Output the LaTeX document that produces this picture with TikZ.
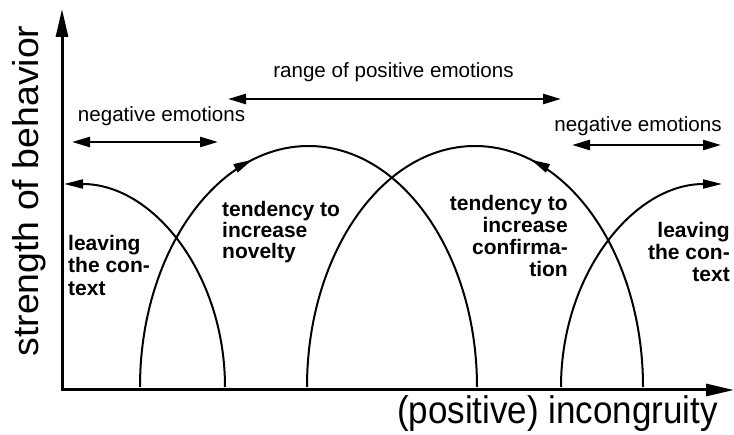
\documentclass[tikz,border=0pt]{standalone}
\usepackage{fontspec}
\setmainfont{Liberation Sans}
\usetikzlibrary{arrows.meta,decorations.markings}
\begin{document}
\begin{tikzpicture}[x=1pt,y=-1pt,
  axisline/.style={line width=3pt, line join=miter,
    {Triangle[length=28pt,width=12pt]}-{Triangle[length=28pt,width=12pt]}},
  curveline/.style={line width=2pt},
  endarrow/.style={-{Triangle[length=19pt,width=9pt]}},
  midarrow/.style={postaction={decorate}, decoration={markings,
    mark=at position #1 with {\arrow{Triangle[length=19pt,width=9pt]}}}},
  rangearrow/.style={line width=2.5pt,
    {Triangle[length=18pt,width=10pt]}-{Triangle[length=18pt,width=10pt]}},
  lbl/.style={inner sep=0pt, anchor=base, font=\fontsize{20.6}{24}\selectfont},
  blbl/.style={inner sep=0pt, font=\fontsize{21}{22}\selectfont\bfseries},
  axlbl/.style={inner sep=0pt}
]
\useasboundingbox (0,0) rectangle (734,435);

% axes
\coordinate (O) at (62,390);
\coordinate (ytip) at (62,9);
\coordinate (xtip) at (734,390);
\draw[axisline] (ytip) -- (O) -- (xtip);

% curve endpoints
\coordinate (c1s) at (225,387);
\coordinate (c1e) at (64,184);
\coordinate (c2s) at (140,387);
\coordinate (c2p) at (308.5,146);
\coordinate (c2e) at (477,387);
\coordinate (c3s) at (643,387);
\coordinate (c3p) at (475,146);
\coordinate (c3e) at (307,387);
\coordinate (c4s) at (561,387);
\coordinate (c4e) at (722,184);

% curve 1: leaving the context (left)
\draw[curveline, endarrow] (c1s) .. controls +(0,-112) and +(90,0) .. (c1e);
% curve 2: tendency to increase novelty
\draw[curveline, midarrow=0.41] (c2s) .. controls +(0,-132.5) and +(-93,0) .. (c2p)
  .. controls +(93,0) and +(0,-132.5) .. (c2e);
% curve 3: tendency to increase confirmation
\draw[curveline, midarrow=0.41] (c3s) .. controls +(0,-132.5) and +(93,0) .. (c3p)
  .. controls +(-93,0) and +(0,-132.5) .. (c3e);
% curve 4: leaving the context (right)
\draw[curveline, endarrow] (c4s) .. controls +(0,-112) and +(-89,0) .. (c4e);

% range arrows
\coordinate (nl1) at (72,142);
\coordinate (nl2) at (218,142);
\coordinate (rp1) at (228,99);
\coordinate (rp2) at (561,99);
\coordinate (nr1) at (572,145);
\coordinate (nr2) at (721,145);
\draw[rangearrow] (nl1) -- (nl2);
\draw[rangearrow] (rp1) -- (rp2);
\draw[rangearrow] (nr1) -- (nr2);

\node[lbl] (tnl) at (161.5,122) {negative emotions};
\node[lbl] (trp) at (393.5,78) {range of positive emotions};
\node[lbl] (tnr) at (638,132) {negative emotions};

% bold labels
\node[blbl, anchor=base west] (l1a) at (68,251) {leaving};
\node[blbl, anchor=base west] (l1b) at (68,273) {the con-};
\node[blbl, anchor=base west] (l1c) at (68,296) {text};

\node[blbl, anchor=base west] (n1) at (222,217) {tendency to};
\node[blbl, anchor=base west] (n2) at (222,238) {increase};
\node[blbl, anchor=base west] (n3) at (222,259) {novelty};

\node[blbl, anchor=base east] (k1) at (568,211) {tendency to};
\node[blbl, anchor=base east] (k2) at (568,233) {increase};
\node[blbl, anchor=base east] (k3) at (568,255) {confirma-};
\node[blbl, anchor=base east] (k4) at (568,277) {tion};

\node[blbl, anchor=base east] (r1) at (730,238) {leaving};
\node[blbl, anchor=base east] (r2) at (730,260) {the con-};
\node[blbl, anchor=base east] (r3) at (730,282) {text};

% axis labels
\node[axlbl, rotate=90, font=\fontsize{36}{40}\selectfont] (ylab) at (29,191)
  {\scalebox{1.04}[1]{strength of behavior}};
\node[axlbl, font=\fontsize{35}{40}\selectfont] (xlab) at (557.5,413.5)
  {\scalebox{1}[1.1]{(positive) incongruity}};
\end{tikzpicture}
\end{document}
